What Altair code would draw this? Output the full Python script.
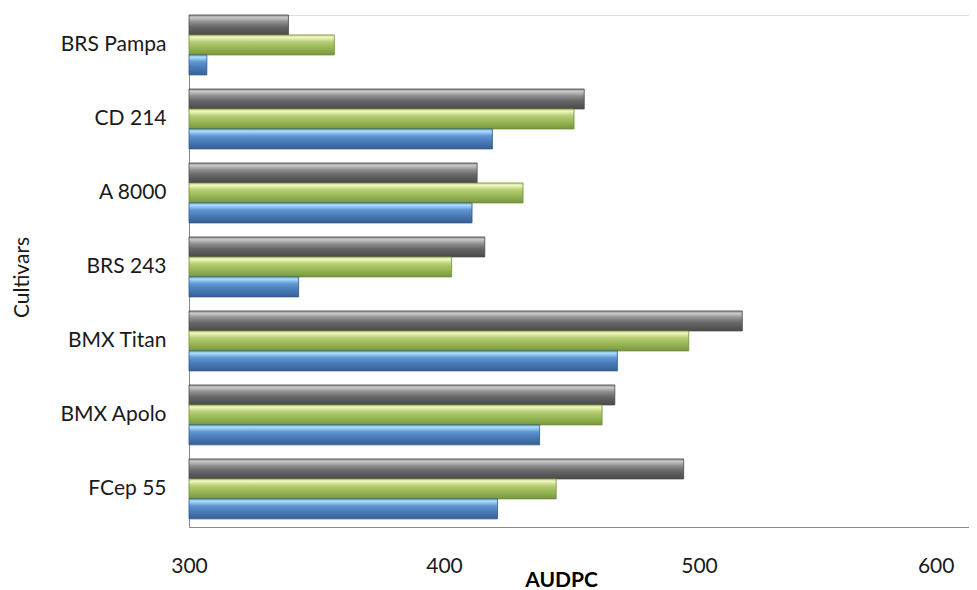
import altair as alt
import pandas as pd

cultivars = ["BRS Pampa", "CD 214", "A 8000", "BRS 243", "BMX Titan", "BMX Apolo", "FCep 55"]
series_order = ["Series 3", "Series 2", "Series 1"]  # top to bottom within a group
grey_vals = [339, 455, 413, 416, 517, 467, 494]
green_vals = [357, 451, 431, 403, 496, 462, 444]
blue_vals = [307, 419, 411, 343, 468, 437.5, 421]
x_ticks = [300, 400, 500, 600]

rows = []
for name, vals in [("Series 3", grey_vals), ("Series 2", green_vals), ("Series 1", blue_vals)]:
    for c, v in zip(cultivars, vals):
        rows.append({"cultivar": c, "series": name, "value": v})
df = pd.DataFrame(rows)

FONT = "Lato"


def grad(stops):
    return alt.Gradient(
        gradient="linear", x1=0, x2=0, y1=0, y2=1,
        stops=[alt.GradientStop(offset=o, color=c) for o, c in stops],
    )


grey_fill = grad([(0, "#8a8a8a"), (0.12, "#c9c9c9"), (0.35, "#8e8e8e"), (0.6, "#666666"), (1, "#4a4a4a")])
green_fill = grad([(0, "#c8da8c"), (0.12, "#f0f6bf"), (0.35, "#b5cd72"), (0.6, "#9bbb59"), (1, "#78963e")])
blue_fill = grad([(0, "#7fb6e6"), (0.12, "#a9dcfa"), (0.35, "#5f95d0"), (0.6, "#4a7ebb"), (1, "#355f93")])

base = alt.Chart(df).encode(
    y=alt.Y(
        "cultivar:N", sort=cultivars,
        scale=alt.Scale(paddingInner=0.19, paddingOuter=0.055, align=0),
        axis=alt.Axis(
            title="Cultivars", ticks=False, labelPadding=23, labelFontSize=21,
            labelFont=FONT, labelColor="#1a1a1a", domainColor="#8a8a8a",
            titleFont=FONT, titleFontSize=21, titleFontWeight="normal", titleColor="#1a1a1a",
            titleX=-167, titleY=262, titleAngle=270, titleAlign="center", titleBaseline="middle",
        ),
    ),
    yOffset=alt.YOffset(
        "series:N", sort=series_order,
        scale=alt.Scale(domain=series_order, paddingInner=0, paddingOuter=0),
    ),
    x=alt.X(
        "value:Q",
        scale=alt.Scale(domain=[300, 605.9], nice=False, zero=False),
        axis=alt.Axis(
            title="AUDPC", values=x_ticks, ticks=False, grid=False, labelPadding=28,
            labelFlush=False,
            labelAlign=alt.expr("datum.value >= 600 ? 'right' : 'center'"),
            labelFontSize=21, labelFont=FONT, labelColor="#1a1a1a", domainColor="#8a8a8a",
            titleFont=FONT, titleFontSize=21, titleFontWeight="bold", titleColor="#000000",
            titleX=372, titleY=59, titleAlign="center", titleBaseline="alphabetic",
        ),
    ),
    x2=alt.datum(300),
)

grey = base.transform_filter(alt.datum.series == "Series 3").mark_bar(
    color=grey_fill, stroke="#4a4a4a", strokeWidth=0.8)
green = base.transform_filter(alt.datum.series == "Series 2").mark_bar(
    color=green_fill, stroke="#6f8c3a", strokeWidth=0.8)
blue = base.transform_filter(alt.datum.series == "Series 1").mark_bar(
    color=blue_fill, stroke="#31598a", strokeWidth=0.8)

chart = alt.layer(grey, green, blue).properties(
    width=780, height=512,
    autosize=alt.AutoSizeParams(type="none"),
    padding={"left": 181, "top": 7, "right": 0, "bottom": 63},
).configure_view(stroke=None).configure(background="white")

chart.save("out.html", embed_options={"renderer": "svg", "actions": False})
